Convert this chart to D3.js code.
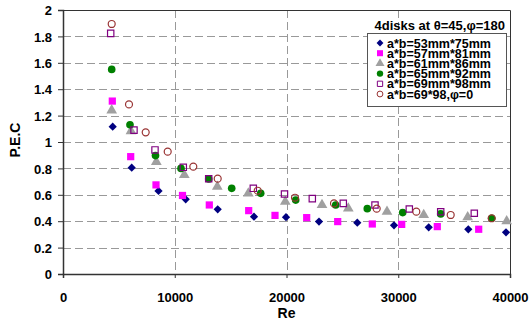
<!DOCTYPE html>
<html>
<head>
<meta charset="utf-8">
<script src="https://cdn.jsdelivr.net/npm/d3@7"></script>
<style>
    body { margin: 0; background: #fff; }
    text { font-family: "Liberation Sans", Arial, sans-serif; font-weight: bold; }
</style>
</head>
<body>
<div id="chart"></div>
<script>
// data
var reNavy = [4447, 6148, 8546, 10980, 13843, 17092, 19955, 22908, 26335, 29620, 32725, 36268, 39642];
var pecNavy = [1.116, 0.805, 0.629, 0.566, 0.49, 0.434, 0.43, 0.397, 0.389, 0.369, 0.354, 0.339, 0.316];

var reMagenta = [4412, 6058, 8322, 10693, 13092, 16617, 18971, 21807, 24582, 27678, 30309, 33494, 37199];
var pecMagenta = [1.31, 0.889, 0.675, 0.595, 0.523, 0.48, 0.444, 0.427, 0.397, 0.379, 0.376, 0.359, 0.339];

var reGray = [4358, 6085, 8349, 10855, 13807, 16581, 19892, 23177, 25530, 28993, 32277, 36214, 39704];
var pecGray = [1.24, 1.083, 0.85, 0.75, 0.661, 0.611, 0.548, 0.523, 0.497, 0.472, 0.447, 0.43, 0.40];

var reGreen = [4358, 5995, 8278, 10559, 13038, 15096, 17691, 20823, 24403, 27230, 30398, 33799, 38362];
var pecGreen = [1.55, 1.131, 0.897, 0.80, 0.72, 0.649, 0.611, 0.56, 0.523, 0.495, 0.465, 0.455, 0.422];

var reOpenSquare = [4268, 6353, 8233, 10765, 13038, 17029, 19821, 22309, 25082, 27919, 30989, 33799, 36805];
var pecOpenSquare = [1.823, 1.09, 0.94, 0.808, 0.722, 0.649, 0.606, 0.571, 0.535, 0.523, 0.492, 0.472, 0.46];

var reOpenCircle = [4358, 5906, 7400, 9369, 11660, 13843, 17423, 20760, 24250, 28071, 31615, 34693, 38362];
var pecOpenCircle = [1.894, 1.285, 1.073, 0.927, 0.813, 0.722, 0.631, 0.578, 0.535, 0.495, 0.472, 0.447, 0.422];

var seriesNames = ['a*b=53mm*75mm', 'a*b=57mm*81mm', 'a*b=61mm*86mm', 'a*b=65mm*92mm', 'a*b=69mm*98mm', 'a*b=69*98,\u03c6=0'];
var xTicks = [0, 10000, 20000, 30000, 40000];
var yTicks = [0, 0.2, 0.4, 0.6, 0.8, 1, 1.2, 1.4, 1.6, 1.8, 2];
var chartTitle = '4disks at \u03b8=45,\u03c6=180';

// square turned by 45 degrees, like the excel diamond
var squareDiamond = {
    draw: function (context, size) {
        var r = Math.sqrt(size / 2);
        context.moveTo(0, -r);
        context.lineTo(r, 0);
        context.lineTo(0, r);
        context.lineTo(-r, 0);
        context.closePath();
    }
};

var series = [
    {name: seriesNames[0], re: reNavy, pec: pecNavy, shape: squareDiamond, size: 34, fill: '#000080', stroke: 'none'},
    {name: seriesNames[1], re: reMagenta, pec: pecMagenta, shape: d3.symbolSquare, size: 52, fill: '#ff00ff', stroke: 'none'},
    {name: seriesNames[2], re: reGray, pec: pecGray, shape: d3.symbolTriangle, size: 50, fill: '#a0a0a0', stroke: 'none'},
    {name: seriesNames[3], re: reGreen, pec: pecGreen, shape: d3.symbolCircle, size: 46, fill: '#008000', stroke: 'none'},
    {name: seriesNames[4], re: reOpenSquare, pec: pecOpenSquare, shape: d3.symbolSquare, size: 40, fill: 'none', stroke: '#800080'},
    {name: seriesNames[5], re: reOpenCircle, pec: pecOpenCircle, shape: d3.symbolCircle, size: 38, fill: 'none', stroke: '#993333'}
];

var width = 531, height = 324;
var margin = {left: 63, right: 21, top: 10, bottom: 50};
var plotW = width - margin.left - margin.right;
var plotH = height - margin.top - margin.bottom;

var svg = d3.select('#chart').append('svg')
    .attr('width', width)
    .attr('height', height);

var x = d3.scaleLinear().domain([0, 40000]).range([0, plotW]);
var y = d3.scaleLinear().domain([0, 2]).range([plotH, 0]);

var g = svg.append('g').attr('transform', 'translate(' + margin.left + ',' + margin.top + ')');

// grid
g.append('g').selectAll('line')
    .data(yTicks.filter(function (d) { return d > 0 && d < 2; }))
    .enter().append('line')
    .attr('x1', 0).attr('x2', plotW)
    .attr('y1', function (d) { return Math.round(y(d)) + 0.5; })
    .attr('y2', function (d) { return Math.round(y(d)) + 0.5; })
    .attr('stroke', '#999').attr('stroke-dasharray', '8,4');

g.append('g').selectAll('line')
    .data(xTicks.filter(function (d) { return d > 0 && d < 40000; }))
    .enter().append('line')
    .attr('y1', 0).attr('y2', plotH)
    .attr('x1', function (d) { return Math.round(x(d)) + 0.5; })
    .attr('x2', function (d) { return Math.round(x(d)) + 0.5; })
    .attr('stroke', '#999').attr('stroke-dasharray', '8,4');

// frame top/right
g.append('path')
    .attr('d', 'M0.5,0.5H' + (plotW + 0.5) + 'V' + plotH)
    .attr('fill', 'none').attr('stroke', '#333');

// axes
var xAxis = g.append('g')
    .attr('transform', 'translate(0,' + plotH + ')')
    .call(d3.axisBottom(x).tickValues(xTicks).tickSize(4).tickFormat(d3.format('d')));
var yAxis = g.append('g')
    .call(d3.axisLeft(y).tickValues(yTicks).tickSize(5).tickFormat(function (d) { return d3.format('')(+d.toFixed(1)); }));

[xAxis, yAxis].forEach(function (a) {
    a.select('.domain').attr('stroke', '#333').attr('stroke-width', 1.5);
    a.selectAll('.tick line').attr('stroke', '#333');
    a.selectAll('.tick text')
        .attr('fill', '#000')
        .style('font-size', '13px')
        .style('font-family', '"Liberation Sans", Arial, sans-serif')
        .style('font-weight', 'bold');
});
xAxis.selectAll('.tick text').attr('dy', null).attr('y', 28);
yAxis.selectAll('.tick text').attr('x', -11).attr('dy', '0.36em');

svg.append('text')
    .attr('x', margin.left + x(20000))
    .attr('y', 318)
    .attr('text-anchor', 'middle')
    .style('font-size', '14px')
    .text('Re');

svg.append('text')
    .attr('transform', 'translate(20,140) rotate(-90)')
    .attr('text-anchor', 'middle')
    .style('font-size', '14px')
    .text('P.E.C');

// points
series.forEach(function (s) {
    g.append('g').selectAll('path')
        .data(s.re.map(function (r, i) { return [r, s.pec[i]]; }))
        .enter().append('path')
        .attr('transform', function (d) { return 'translate(' + x(d[0]) + ',' + y(d[1]) + ')'; })
        .attr('d', d3.symbol().type(s.shape).size(s.size))
        .attr('fill', s.fill)
        .attr('stroke', s.stroke)
        .attr('stroke-width', s.stroke === 'none' ? 0 : 1.2);
});

// legend
svg.append('text')
    .attr('x', 505)
    .attr('y', 30)
    .attr('text-anchor', 'end')
    .style('font-size', '13px')
    .text(chartTitle);

var legend = svg.append('g').attr('transform', 'translate(367,33)');
legend.append('rect')
    .attr('x', 0.5).attr('y', 0.5)
    .attr('width', 139).attr('height', 73)
    .attr('fill', '#fff').attr('stroke', '#555');

var item = legend.selectAll('.item')
    .data(series)
    .enter().append('g')
    .attr('transform', function (d, i) { return 'translate(0,' + (10 + i * 10.2) + ')'; });

item.append('path')
    .attr('transform', 'translate(13,0)')
    .attr('d', function (d) { return d3.symbol().type(d.shape).size(d.size * 0.7)(); })
    .attr('fill', function (d) { return d.fill; })
    .attr('stroke', function (d) { return d.stroke; })
    .attr('stroke-width', function (d) { return d.stroke === 'none' ? 0 : 1; });

item.append('text')
    .attr('x', 20)
    .attr('dy', '0.36em')
    .style('font-size', '12.5px')
    .text(function (d) { return d.name; });
</script>
</body>
</html>
